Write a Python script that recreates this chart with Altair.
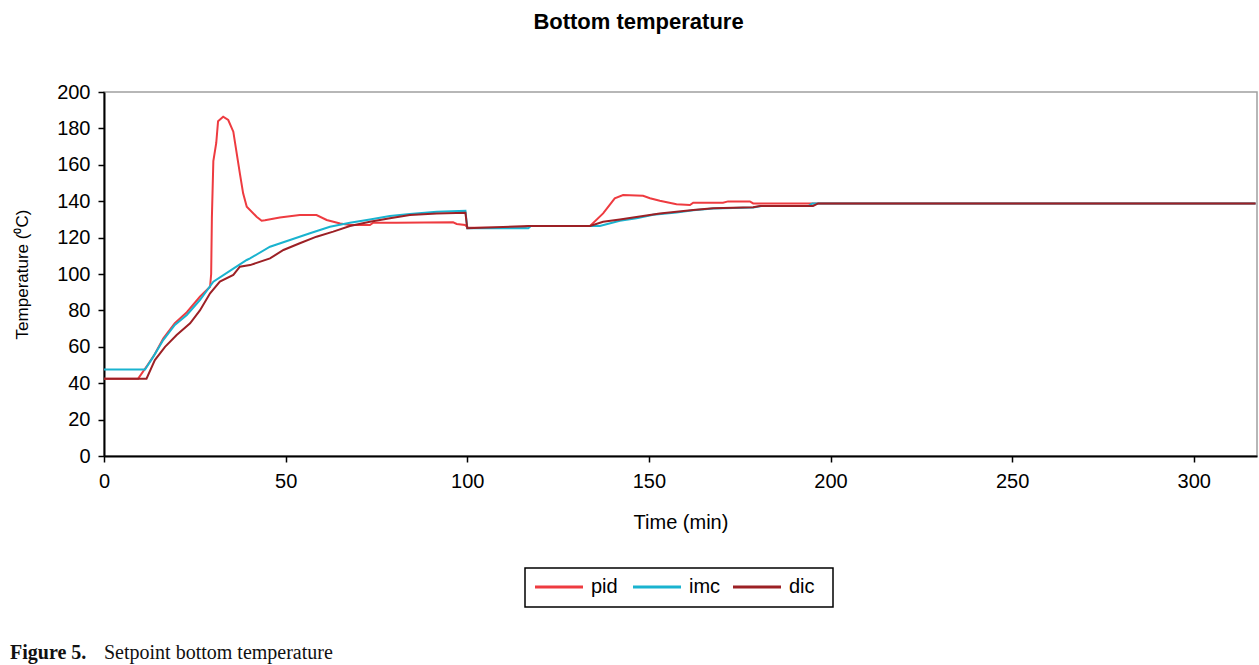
import altair as alt
import pandas as pd

# ---- data ----
pid_t = [0, 9.4, 12, 14, 16.3, 19.5, 22.8, 26.4, 29.2, 29.5, 29.7, 30.1, 30.9, 31.4, 32.8, 34.2,
         35.6, 36.1, 37.4, 38.3, 39.3, 42.0, 43.4, 44.3, 48.4, 53.9, 58.5, 61.3, 65.0, 67.7,
         73.2, 74.1, 80.5, 96.1, 97.1, 99.4, 100.2, 115, 117, 133.8, 137.4, 140.6, 142.9,
         148.4, 150.3, 153, 157.6, 161.3, 162.2, 170.4, 171.8, 177.8, 178.7, 317]
pid_v = [42.5, 42.5, 50, 56, 64.5, 73, 79, 87.5, 93, 100, 131, 162, 172, 184, 186.4, 184.6,
         178.2, 171.8, 155.3, 144.3, 137, 131.5, 129.3, 129.5, 131.1, 132.4, 132.4, 129.7, 127.8, 126.9,
         126.9, 128.2, 128.2, 128.4, 127.5, 126.9, 125.4, 125.4, 126.4, 126.4, 133.3, 141.6, 143.4,
         143, 141.6, 140.3, 138.3, 137.9, 139.2, 139.2, 139.9, 139.9, 138.8, 138.8]

imc_t = [0, 11.3, 13.6, 16.3, 19.5, 22.8, 26.4, 30.1, 35.6, 39.3, 40.2, 45.7, 51.2, 56.7, 62.2,
         67.7, 73.2, 78.7, 84.2, 91.6, 99.5, 100, 116.8, 117.5, 133.8, 136.5, 142, 146.6, 151.2,
         157.6, 162.2, 167.7, 178.7, 181, 194, 195, 317]
imc_v = [47.5, 47.5, 54.6, 63.7, 72, 77.5, 85.7, 95.8, 103, 107.7, 108.6, 115, 118.7, 122.4, 126,
         128.2, 130, 131.9, 133, 134.2, 134.8, 125.1, 125.1, 126.4, 126.4, 126.4, 129.3, 130.6, 132.6,
         133.8, 135, 136, 136.5, 137.4, 137.4, 138.8, 138.8]

dic_t = [0, 11.7, 14, 16.8, 20, 23.7, 26.4, 29.2, 31.9, 35.6, 37.4, 40.2, 45.7, 49.4, 53.9, 58.5,
         63.1, 67.7, 73.2, 78.7, 84.2, 91.6, 99.5, 100, 117, 133.8, 137.4, 142, 148.4, 153, 157.6,
         162.2, 167.7, 178.7, 180.6, 195.2, 196.6, 317]
dic_v = [42.5, 42.5, 52.7, 60, 66.5, 72.9, 80, 89.4, 95.8, 99.5, 104, 104.9, 108.6, 113.2, 116.9, 120.5,
         123.3, 126.4, 128.7, 130.6, 132.4, 133.3, 133.6, 125.1, 126.4, 126.4, 128.7, 130, 131.9, 133.3, 134.2,
         135.2, 136.1, 136.7, 137.4, 137.4, 138.8, 138.8]

series = ["pid", "imc", "dic"]
colors = ["#ee3b40", "#1ab3cf", "#9c2025"]
y_ticks = list(range(0, 201, 20))
x_ticks = list(range(0, 301, 50))

rows = []
for name, ts, vs in [("pid", pid_t, pid_v), ("imc", imc_t, imc_v), ("dic", dic_t, dic_v)]:
    for i, (t, v) in enumerate(zip(ts, vs)):
        rows.append({"series": name, "time": t, "temp": v, "order": i})
df = pd.DataFrame(rows)

FONT = "Liberation Sans"

lines = alt.Chart(df).mark_line(strokeWidth=2, clip=True).encode(
    x=alt.X("time:Q", scale=alt.Scale(domain=[0, 317.4], nice=False, zero=False),
            axis=alt.Axis(values=x_ticks, title="Time (min)", grid=False, labelFlush=False,
                          labelFontSize=20, titleFontSize=20, labelPadding=9,
                          titlePadding=21, tickSize=6)),
    y=alt.Y("temp:Q", scale=alt.Scale(domain=[0, 200], nice=False),
            axis=alt.Axis(values=y_ticks, title="Temperature (\u2070C)", grid=False, labelFlush=False,
                          labelFontSize=20, titleFontSize=17, labelPadding=8,
                          titlePadding=25, tickSize=6)),
    color=alt.Color("series:N", scale=alt.Scale(domain=series, range=colors), legend=None),
    order="order:Q",
)

# ---- hand-made boxed legend (as in the reference) ----
one = pd.DataFrame({"k": [0]})
layers = [lines]
layers.append(alt.Chart(one).mark_rect(fill="white", stroke="black", strokeWidth=1.5).encode(
    x=alt.value(421), x2=alt.value(729), y=alt.value(476), y2=alt.value(515)))
leg_x = [431, 529, 629]
for name, col, lx in zip(series, colors, leg_x):
    layers.append(alt.Chart(one).mark_rule(color=col, strokeWidth=3).encode(
        x=alt.value(lx), x2=alt.value(lx + 48), y=alt.value(495)))
    layers.append(alt.Chart(pd.DataFrame({"lab": [name]})).mark_text(
        font=FONT, fontSize=20, align="left", baseline="middle", color="black").encode(
        x=alt.value(lx + 56), y=alt.value(495), text="lab:N"))

# ---- figure caption at the bottom ----
cap_df = pd.DataFrame({"txt": ["Figure 5."], "txt2": ["Setpoint bottom temperature"]})
layers.append(alt.Chart(cap_df).mark_text(font="Liberation Serif", fontSize=20, fontWeight="bold",
                                          align="left", baseline="alphabetic", color="#111111").encode(
    x=alt.value(-94), y=alt.value(567), text="txt:N"))
layers.append(alt.Chart(cap_df).mark_text(font="Liberation Serif", fontSize=20,
                                          align="left", baseline="alphabetic", color="#111111").encode(
    x=alt.value(0), y=alt.value(567), text="txt2:N"))

chart = alt.layer(*layers).properties(
    width=1153, height=364,
    autosize=alt.AutoSizeParams(type="none"),
    padding={"left": 104, "top": 92, "right": 2, "bottom": 209},
    title=alt.Title("Bottom temperature", fontSize=22, fontWeight="bold", font=FONT,
                    anchor="middle", dx=-42, offset=48, color="black"),
).configure_view(stroke="#a0a0a0", strokeWidth=1.5).configure_axis(
    domainColor="black", domainWidth=2, tickColor="black", tickWidth=1.5,
    labelColor="black", titleColor="black", labelFont=FONT, titleFont=FONT,
    titleFontWeight="normal",
)

chart.save("out.html", embed_options={"renderer": "svg", "actions": False})
